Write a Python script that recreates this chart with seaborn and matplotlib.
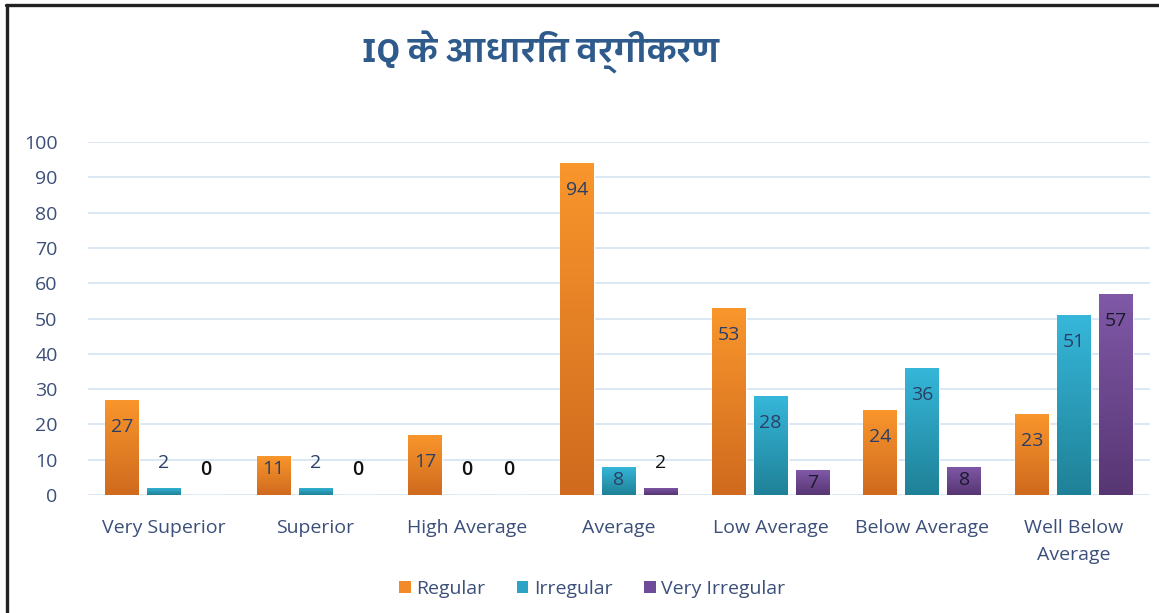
import numpy as np
import pandas as pd
import matplotlib
matplotlib.use('Agg')
import matplotlib.pyplot as plt
from matplotlib import font_manager
from matplotlib.ft2font import FT2Font
from matplotlib.colors import LinearSegmentedColormap
from matplotlib.lines import Line2D
from matplotlib.patches import Patch
import seaborn as sns

# data
categories = ['Very Superior', 'Superior', 'High Average', 'Average',
              'Low Average', 'Below Average', 'Well Below\nAverage']
series = ['Regular', 'Irregular', 'Very Irregular']
regular = [27, 11, 17, 94, 53, 24, 23]
irregular = [2, 2, 0, 8, 28, 36, 51]
very_irregular = [0, 0, 0, 2, 7, 8, 57]
yticks = list(range(0, 101, 10))
title = 'IQ के आधारित वर्गीकरण'

# colours: legend / gradient top / gradient bottom / label
colors = {'Regular': ('#F28A2A', '#F9962C', '#CF6A1E', '#2B3F66'),
          'Irregular': ('#2AA3C4', '#36B7DA', '#1F8197', '#2B3F66'),
          'Very Irregular': ('#6E4C9A', '#8059A8', '#573673', '#1A1A2A')}
text_col = '#3B4F7A'


def find_devanagari_font():
    # any installed font with Devanagari glyphs, sans / non-mono preferred
    found = []
    for f in font_manager.fontManager.ttflist:
        try:
            if 0x0915 in FT2Font(f.fname).get_charmap():
                found.append(f)
        except Exception:
            pass
    if not found:
        return None

    def score(f):
        n = f.name.lower()
        s = 0
        if 'mono' in n or 'code' in n:
            s -= 4
        if 'sans' in n:
            s += 2
        if 'serif' in n and 'sans' not in n:
            s -= 1
        if f.weight in ('bold', 700):
            s += 1
        return s

    return max(found, key=score).name


sns.set_theme(style='white')
plt.rcParams['font.family'] = ['Open Sans', 'DejaVu Sans']
deva = find_devanagari_font()
title_family = ([deva] if deva else []) + ['Open Sans', 'DejaVu Sans']

df = pd.DataFrame({
    'category': categories * 3,
    'series': [s for s in series for _ in categories],
    'value': regular + irregular + very_irregular,
})

fig = plt.figure(figsize=(11.59, 6.13), dpi=100)
ax = fig.add_axes([0.076, 0.1925, 0.916, 0.5755])

sns.barplot(data=df, x='category', y='value', hue='series', hue_order=series,
            order=categories, palette=[colors[s][0] for s in series],
            width=0.83, gap=0.19, legend=False, ax=ax, errorbar=None,
            saturation=1, zorder=2)

# gradient fill on each bar
for container, s in zip(ax.containers, series):
    cmap = LinearSegmentedColormap.from_list(s, [colors[s][2], colors[s][1]])
    for bar in container:
        h = bar.get_height()
        if h <= 0:
            continue
        x0 = bar.get_x()
        w = bar.get_width()
        grad = np.linspace(0, 1, 256).reshape(-1, 1)
        im = ax.imshow(grad, extent=[x0, x0 + w, 0, h], origin='lower',
                       aspect='auto', cmap=cmap, zorder=3)
        im.set_clip_path(bar)

# value labels
for container, s, vals in zip(ax.containers, series, [regular, irregular, very_irregular]):
    for bar, v in zip(container, vals):
        xc = bar.get_x() + bar.get_width() / 2
        weight = 'normal'
        if v >= 15:
            y, c = v - 7.6, colors[s][3]
        elif v >= 5:
            y, c = v - 3.7, colors[s][3]
        else:
            y = v + 7
            c = colors[s][3] if s == 'Irregular' and v > 0 else '#111111'
            if v == 0:
                weight = 'semibold'
        ax.text(xc, y, str(v), ha='center', va='center', fontsize=14,
                color=c, fontweight=weight, zorder=5)

ax.set_xlim(-0.5, len(categories) - 0.5)
ax.set_ylim(0, 100)
ax.set_yticks(yticks)
ax.set_xlabel('')
ax.set_ylabel('')
ax.yaxis.grid(True, color='#D9E5F3', lw=1.3, zorder=0)
ax.set_axisbelow(True)
for sp in ax.spines.values():
    sp.set_visible(False)
ax.tick_params(axis='y', length=0, pad=22, labelsize=14, labelcolor=text_col)
ax.tick_params(axis='x', length=0, pad=17, labelsize=14, labelcolor=text_col)
for lbl in ax.get_xticklabels():
    lbl.set_linespacing(1.65)

handles = [Patch(facecolor=colors[s][0], edgecolor='none', label=s) for s in series]
fig.legend(handles=handles, loc='center', bbox_to_anchor=(0.511, 0.039), ncol=3,
           frameon=False, fontsize=14, handlelength=0.6, handleheight=0.6,
           handletextpad=0.3, columnspacing=1.6, labelcolor=text_col)

fig.text(0.466, 0.915, title, ha='center', va='center', fontsize=24,
         fontweight='bold', color='#2F5A8C', family=title_family)

# frame lines of the original picture (top and left only)
fig.add_artist(Line2D([0.0055, 1.0], [0.9915, 0.9915], transform=fig.transFigure,
                      color='#222222', lw=2.4))
fig.add_artist(Line2D([0.0060, 0.0060], [0.0, 0.9915], transform=fig.transFigure,
                      color='#222222', lw=2.4))

fig.savefig('out.png', dpi=100)
